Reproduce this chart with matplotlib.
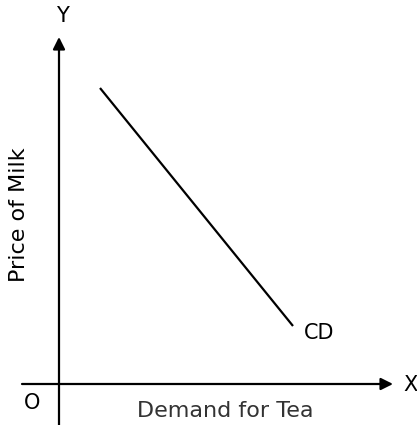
import matplotlib
matplotlib.use("Agg")
import matplotlib.pyplot as plt

# Data (origin O at 0,0)
curve_x = [41, 234]
curve_y = [296, 58]
curve_label = "CD"
x_label = "Demand for Tea"
y_label = "Price of Milk"

plt.rcParams['font.family'] = ['DejaVu Sans']

fig = plt.figure(figsize=(4.17, 4.25), dpi=100)
ax = fig.add_axes([0, 0, 1, 1])
ax.set_xlim(-59, 358)
ax.set_ylim(-41, 384)
ax.axis('off')

# axes with arrows
ax.annotate('', xy=(334, 0), xytext=(-37, 0),
            arrowprops=dict(arrowstyle='-|>', lw=1.6, color='black', mutation_scale=18, shrinkA=0, shrinkB=0))
ax.annotate('', xy=(0, 347), xytext=(0, -41),
            arrowprops=dict(arrowstyle='-|>', lw=1.6, color='black', mutation_scale=18, shrinkA=0, shrinkB=0))

ax.plot(curve_x, curve_y, color='black', lw=1.6, solid_capstyle='butt')

ax.text(245, 51, curve_label, fontsize=15, ha='left', va='center')
ax.text(344, -1, 'X', fontsize=15, ha='left', va='center')
ax.text(3, 368, 'Y', fontsize=15, ha='center', va='center')
ax.text(-27, -19, 'O', fontsize=15, ha='center', va='center')
ax.text(166, -27, x_label, fontsize=16, ha='center', va='center', color='#333333')
ax.text(-40, 169, y_label, fontsize=16, ha='center', va='center', rotation=90)

fig.savefig('out.png', dpi=100)
